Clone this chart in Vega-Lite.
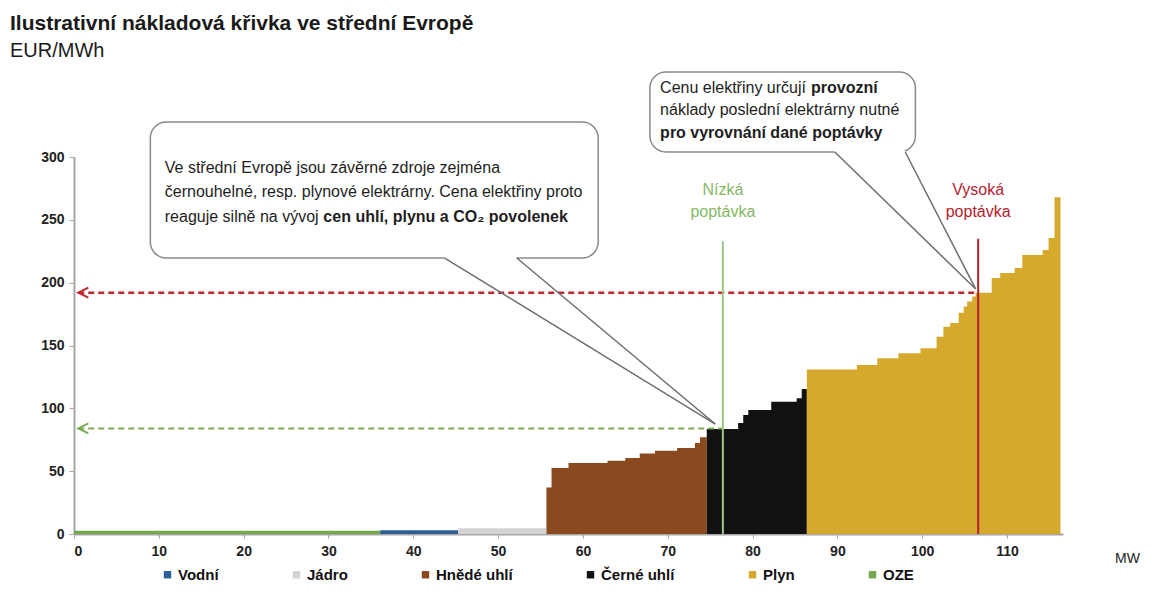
{
  "$schema": "https://vega.github.io/schema/vega-lite/v6.json",
  "width": 989,
  "height": 377,
  "autosize": {"type": "none"},
  "padding": {"left": 74, "top": 157, "right": 92, "bottom": 78},
  "background": "white",
  "config": {"view": {"stroke": null}, "font": "Liberation Sans"},
  "title": {
    "text": "Ilustrativní nákladová křivka ve střední Evropě",
    "subtitle": "EUR/MWh",
    "anchor": "start",
    "frame": "group",
    "dx": -64,
    "offset": 10,
    "font": "Liberation Sans",
    "fontSize": 21,
    "fontWeight": "bold",
    "color": "#1a1a1a",
    "subtitleFont": "Liberation Sans",
    "subtitleFontSize": 20,
    "subtitleColor": "#1a1a1a",
    "subtitlePadding": 7
  },
  "datasets": {
    "curve": [
      {"type": "OZE", "mw": 0, "price": 2.5},
      {"type": "OZE", "mw": 36.1, "price": 2.5},
      {"type": "Vodní", "mw": 36.1, "price": 3},
      {"type": "Vodní", "mw": 45.3, "price": 3},
      {"type": "Jádro", "mw": 45.3, "price": 4.5},
      {"type": "Jádro", "mw": 55.7, "price": 4.5},
      {"type": "Hnědé uhlí", "mw": 55.7, "price": 37},
      {"type": "Hnědé uhlí", "mw": 56.3, "price": 52.5},
      {"type": "Hnědé uhlí", "mw": 58.3, "price": 56.5},
      {"type": "Hnědé uhlí", "mw": 62.9, "price": 58.3},
      {"type": "Hnědé uhlí", "mw": 65.0, "price": 60.5},
      {"type": "Hnědé uhlí", "mw": 66.7, "price": 64},
      {"type": "Hnědé uhlí", "mw": 68.5, "price": 66.3},
      {"type": "Hnědé uhlí", "mw": 71.1, "price": 68.4},
      {"type": "Hnědé uhlí", "mw": 73.2, "price": 72.4},
      {"type": "Hnědé uhlí", "mw": 73.8, "price": 77},
      {"type": "Hnědé uhlí", "mw": 74.6, "price": 77},
      {"type": "Černé uhlí", "mw": 74.6, "price": 83.5},
      {"type": "Černé uhlí", "mw": 78.3, "price": 88.3},
      {"type": "Černé uhlí", "mw": 78.9, "price": 94.7},
      {"type": "Černé uhlí", "mw": 79.5, "price": 98.7},
      {"type": "Černé uhlí", "mw": 82.2, "price": 105.3},
      {"type": "Černé uhlí", "mw": 85.2, "price": 108},
      {"type": "Černé uhlí", "mw": 85.8, "price": 115.4},
      {"type": "Černé uhlí", "mw": 86.4, "price": 115.4},
      {"type": "Plyn", "mw": 86.4, "price": 131},
      {"type": "Plyn", "mw": 92.3, "price": 134.5},
      {"type": "Plyn", "mw": 94.7, "price": 139.8},
      {"type": "Plyn", "mw": 97.2, "price": 143.8},
      {"type": "Plyn", "mw": 99.8, "price": 147.8},
      {"type": "Plyn", "mw": 101.7, "price": 157},
      {"type": "Plyn", "mw": 102.5, "price": 165},
      {"type": "Plyn", "mw": 103.3, "price": 168},
      {"type": "Plyn", "mw": 104.3, "price": 176},
      {"type": "Plyn", "mw": 104.9, "price": 181},
      {"type": "Plyn", "mw": 105.3, "price": 185},
      {"type": "Plyn", "mw": 105.9, "price": 189},
      {"type": "Plyn", "mw": 106.3, "price": 192},
      {"type": "Plyn", "mw": 108.2, "price": 203.7},
      {"type": "Plyn", "mw": 109.2, "price": 207.7},
      {"type": "Plyn", "mw": 110.9, "price": 211.7},
      {"type": "Plyn", "mw": 111.8, "price": 222},
      {"type": "Plyn", "mw": 114.2, "price": 226},
      {"type": "Plyn", "mw": 114.9, "price": 235.5},
      {"type": "Plyn", "mw": 115.6, "price": 268},
      {"type": "Plyn", "mw": 116.3, "price": 268}
    ],
    "boxes": [
      {"x0": 9.0, "x1": 61.8, "y0": 219.6, "y1": 327.8},
      {"x0": 67.9, "x1": 99.2, "y0": 304, "y1": 367.6}
    ],
    "gaps": [
      {"x0": 43.7, "x1": 52.2, "y": 219.6},
      {"x0": 89.7, "x1": 98.0, "y": 304}
    ],
    "tails": [
      {"x0": 43.7, "y0": 219.6, "x1": 75.6, "y1": 87.5},
      {"x0": 52.2, "y0": 219.6, "x1": 75.6, "y1": 87.5},
      {"x0": 89.7, "y0": 304, "x1": 106.3, "y1": 195},
      {"x0": 98.0, "y0": 304, "x1": 106.3, "y1": 195}
    ],
    "notes": [
      {"x": 10.7, "y": 291, "text": "Ve střední Evropě jsou závěrné zdroje zejména"},
      {"x": 10.7, "y": 272, "text": "černouhelné, resp. plynové elektrárny. Cena elektřiny proto"},
      {"x": 10.7, "y": 252, "text": "reaguje silně na vývoj"},
      {"x": 69.1, "y": 355, "text": "Cenu elektřiny určují"},
      {"x": 69.1, "y": 337.4, "text": "náklady poslední elektrárny nutné"}
    ],
    "notesBold": [
      {"x": 29.4, "y": 252, "text": "cen uhlí, plynu a CO₂ povolenek"},
      {"x": 86.9, "y": 355, "text": "provozní"},
      {"x": 69.1, "y": 319, "text": "pro vyrovnání dané poptávky"}
    ],
    "low": [{"x": 76.5, "y": 84, "x0": 0.5, "ybot": 0, "ytop": 233, "arrow": 1.1, "label": ["Nízká", "poptávka"], "ly": 274}],
    "high": [{"x": 106.6, "y": 192, "x0": 0.5, "ybot": 0, "ytop": 235, "arrow": 1.1, "label": ["Vysoká", "poptávka"], "ly": 274}]
  },
  "layer": [
    {
      "data": {"name": "curve"},
      "mark": {"type": "area", "interpolate": "step-after", "opacity": 1, "fillOpacity": 1},
      "encoding": {
        "x": {
          "field": "mw", "type": "quantitative",
          "scale": {"domain": [0, 116.6], "nice": false, "zero": false},
          "axis": {
            "values": [0, 10, 20, 30, 40, 50, 60, 70, 80, 90, 100, 110],
            "grid": false,
            "domainColor": "#a6a6a6", "domainWidth": 2,
            "tickColor": "#a6a6a6", "tickSize": 4, "tickWidth": 1,
            "labelFont": "Liberation Sans", "labelFontSize": 14, "labelFontWeight": "bold", "labelColor": "#222",
            "labelPadding": 6,
            "title": "MW", "titleFont": "Liberation Sans", "titleFontSize": 14, "titleFontWeight": "normal", "titleColor": "#222",
            "titleX": 1053, "titleY": 24, "titleAlign": "center", "titleBaseline": "middle"
          }
        },
        "y": {
          "field": "price", "type": "quantitative", "stack": null,
          "scale": {"domain": [0, 300], "nice": false},
          "axis": {
            "values": [0, 50, 100, 150, 200, 250, 300],
            "grid": false,
            "domainColor": "#a6a6a6", "domainWidth": 2,
            "tickColor": "#a6a6a6", "tickSize": 5, "tickWidth": 1,
            "labelFont": "Liberation Sans", "labelFontSize": 14, "labelFontWeight": "bold", "labelColor": "#222",
            "labelPadding": 5,
            "title": null
          }
        },
        "y2": {"datum": 0},
        "color": {
          "field": "type", "type": "nominal",
          "scale": {
            "domain": ["Vodní", "Jádro", "Hnědé uhlí", "Černé uhlí", "Plyn", "OZE"],
            "range": ["#2f5d9a", "#d3d3d3", "#8a4a1f", "#111111", "#d4a92c", "#74a84c"]
          },
          "legend": {
            "orient": "none", "legendX": 86, "legendY": 410,
            "direction": "horizontal", "columns": 6, "columnPadding": 70,
            "symbolType": "square", "symbolSize": 55, "symbolStrokeWidth": 0, "symbolOpacity": 1,
            "labelFont": "Liberation Sans", "labelFontSize": 15, "labelFontWeight": "bold", "labelColor": "#111",
            "labelOffset": 3, "title": null
          }
        }
      }
    },
    {
      "data": {"name": "low"},
      "mark": {"type": "rule", "color": "#7cab55", "strokeWidth": 2, "strokeDash": [6, 4]},
      "encoding": {"x": {"field": "x0", "type": "quantitative"}, "x2": {"field": "x"}, "y": {"field": "y", "type": "quantitative"}}
    },
    {
      "data": {"name": "high"},
      "mark": {"type": "rule", "color": "#c0262d", "strokeWidth": 2.5, "strokeDash": [6, 4]},
      "encoding": {"x": {"field": "x0", "type": "quantitative"}, "x2": {"field": "x"}, "y": {"field": "y", "type": "quantitative"}}
    },
    {
      "data": {"name": "low"},
      "mark": {"type": "point", "shape": "M1,-1L-1,0L1,1", "filled": false, "size": 100, "color": "#7cab55", "strokeWidth": 2, "opacity": 1},
      "encoding": {"x": {"field": "arrow", "type": "quantitative"}, "y": {"field": "y", "type": "quantitative"}}
    },
    {
      "data": {"name": "high"},
      "mark": {"type": "point", "shape": "M1,-1L-1,0L1,1", "filled": false, "size": 100, "color": "#c0262d", "strokeWidth": 2, "opacity": 1},
      "encoding": {"x": {"field": "arrow", "type": "quantitative"}, "y": {"field": "y", "type": "quantitative"}}
    },
    {
      "data": {"name": "low"},
      "mark": {"type": "rule", "color": "#9cc783", "strokeWidth": 2},
      "encoding": {"x": {"field": "x", "type": "quantitative"}, "y": {"field": "ytop", "type": "quantitative"}, "y2": {"field": "ybot"}}
    },
    {
      "data": {"name": "high"},
      "mark": {"type": "rule", "color": "#b0212c", "strokeWidth": 2},
      "encoding": {"x": {"field": "x", "type": "quantitative"}, "y": {"field": "ytop", "type": "quantitative"}, "y2": {"field": "ybot"}}
    },
    {
      "data": {"name": "low"},
      "mark": {"type": "text", "color": "#86b866", "font": "Liberation Sans", "fontSize": 16, "align": "center", "baseline": "middle", "lineHeight": 22},
      "encoding": {"x": {"field": "x", "type": "quantitative"}, "y": {"field": "ly", "type": "quantitative"}, "text": {"field": "label", "type": "nominal"}}
    },
    {
      "data": {"name": "high"},
      "mark": {"type": "text", "color": "#b5222e", "font": "Liberation Sans", "fontSize": 16, "align": "center", "baseline": "middle", "lineHeight": 22},
      "encoding": {"x": {"field": "x", "type": "quantitative"}, "y": {"field": "ly", "type": "quantitative"}, "text": {"field": "label", "type": "nominal"}}
    },
    {
      "data": {"name": "boxes"},
      "mark": {"type": "rect", "fill": "white", "stroke": "#8a8a8a", "strokeWidth": 1.5, "cornerRadius": 16},
      "encoding": {
        "x": {"field": "x0", "type": "quantitative"}, "x2": {"field": "x1"},
        "y": {"field": "y0", "type": "quantitative"}, "y2": {"field": "y1"}
      }
    },
    {
      "data": {"name": "gaps"},
      "mark": {"type": "rule", "color": "white", "strokeWidth": 3},
      "encoding": {"x": {"field": "x0", "type": "quantitative"}, "x2": {"field": "x1"}, "y": {"field": "y", "type": "quantitative"}}
    },
    {
      "data": {"name": "tails"},
      "mark": {"type": "rule", "color": "#6e6e6e", "strokeWidth": 1.5},
      "encoding": {
        "x": {"field": "x0", "type": "quantitative"}, "x2": {"field": "x1"},
        "y": {"field": "y0", "type": "quantitative"}, "y2": {"field": "y1"}
      }
    },
    {
      "data": {"name": "notes"},
      "mark": {"type": "text", "color": "#1e1e1e", "font": "Liberation Sans", "fontSize": 16, "align": "left", "baseline": "middle"},
      "encoding": {"x": {"field": "x", "type": "quantitative"}, "y": {"field": "y", "type": "quantitative"}, "text": {"field": "text", "type": "nominal"}}
    },
    {
      "data": {"name": "notesBold"},
      "mark": {"type": "text", "color": "#1e1e1e", "font": "Liberation Sans", "fontSize": 16, "fontWeight": "bold", "align": "left", "baseline": "middle"},
      "encoding": {"x": {"field": "x", "type": "quantitative"}, "y": {"field": "y", "type": "quantitative"}, "text": {"field": "text", "type": "nominal"}}
    }
  ]
}
